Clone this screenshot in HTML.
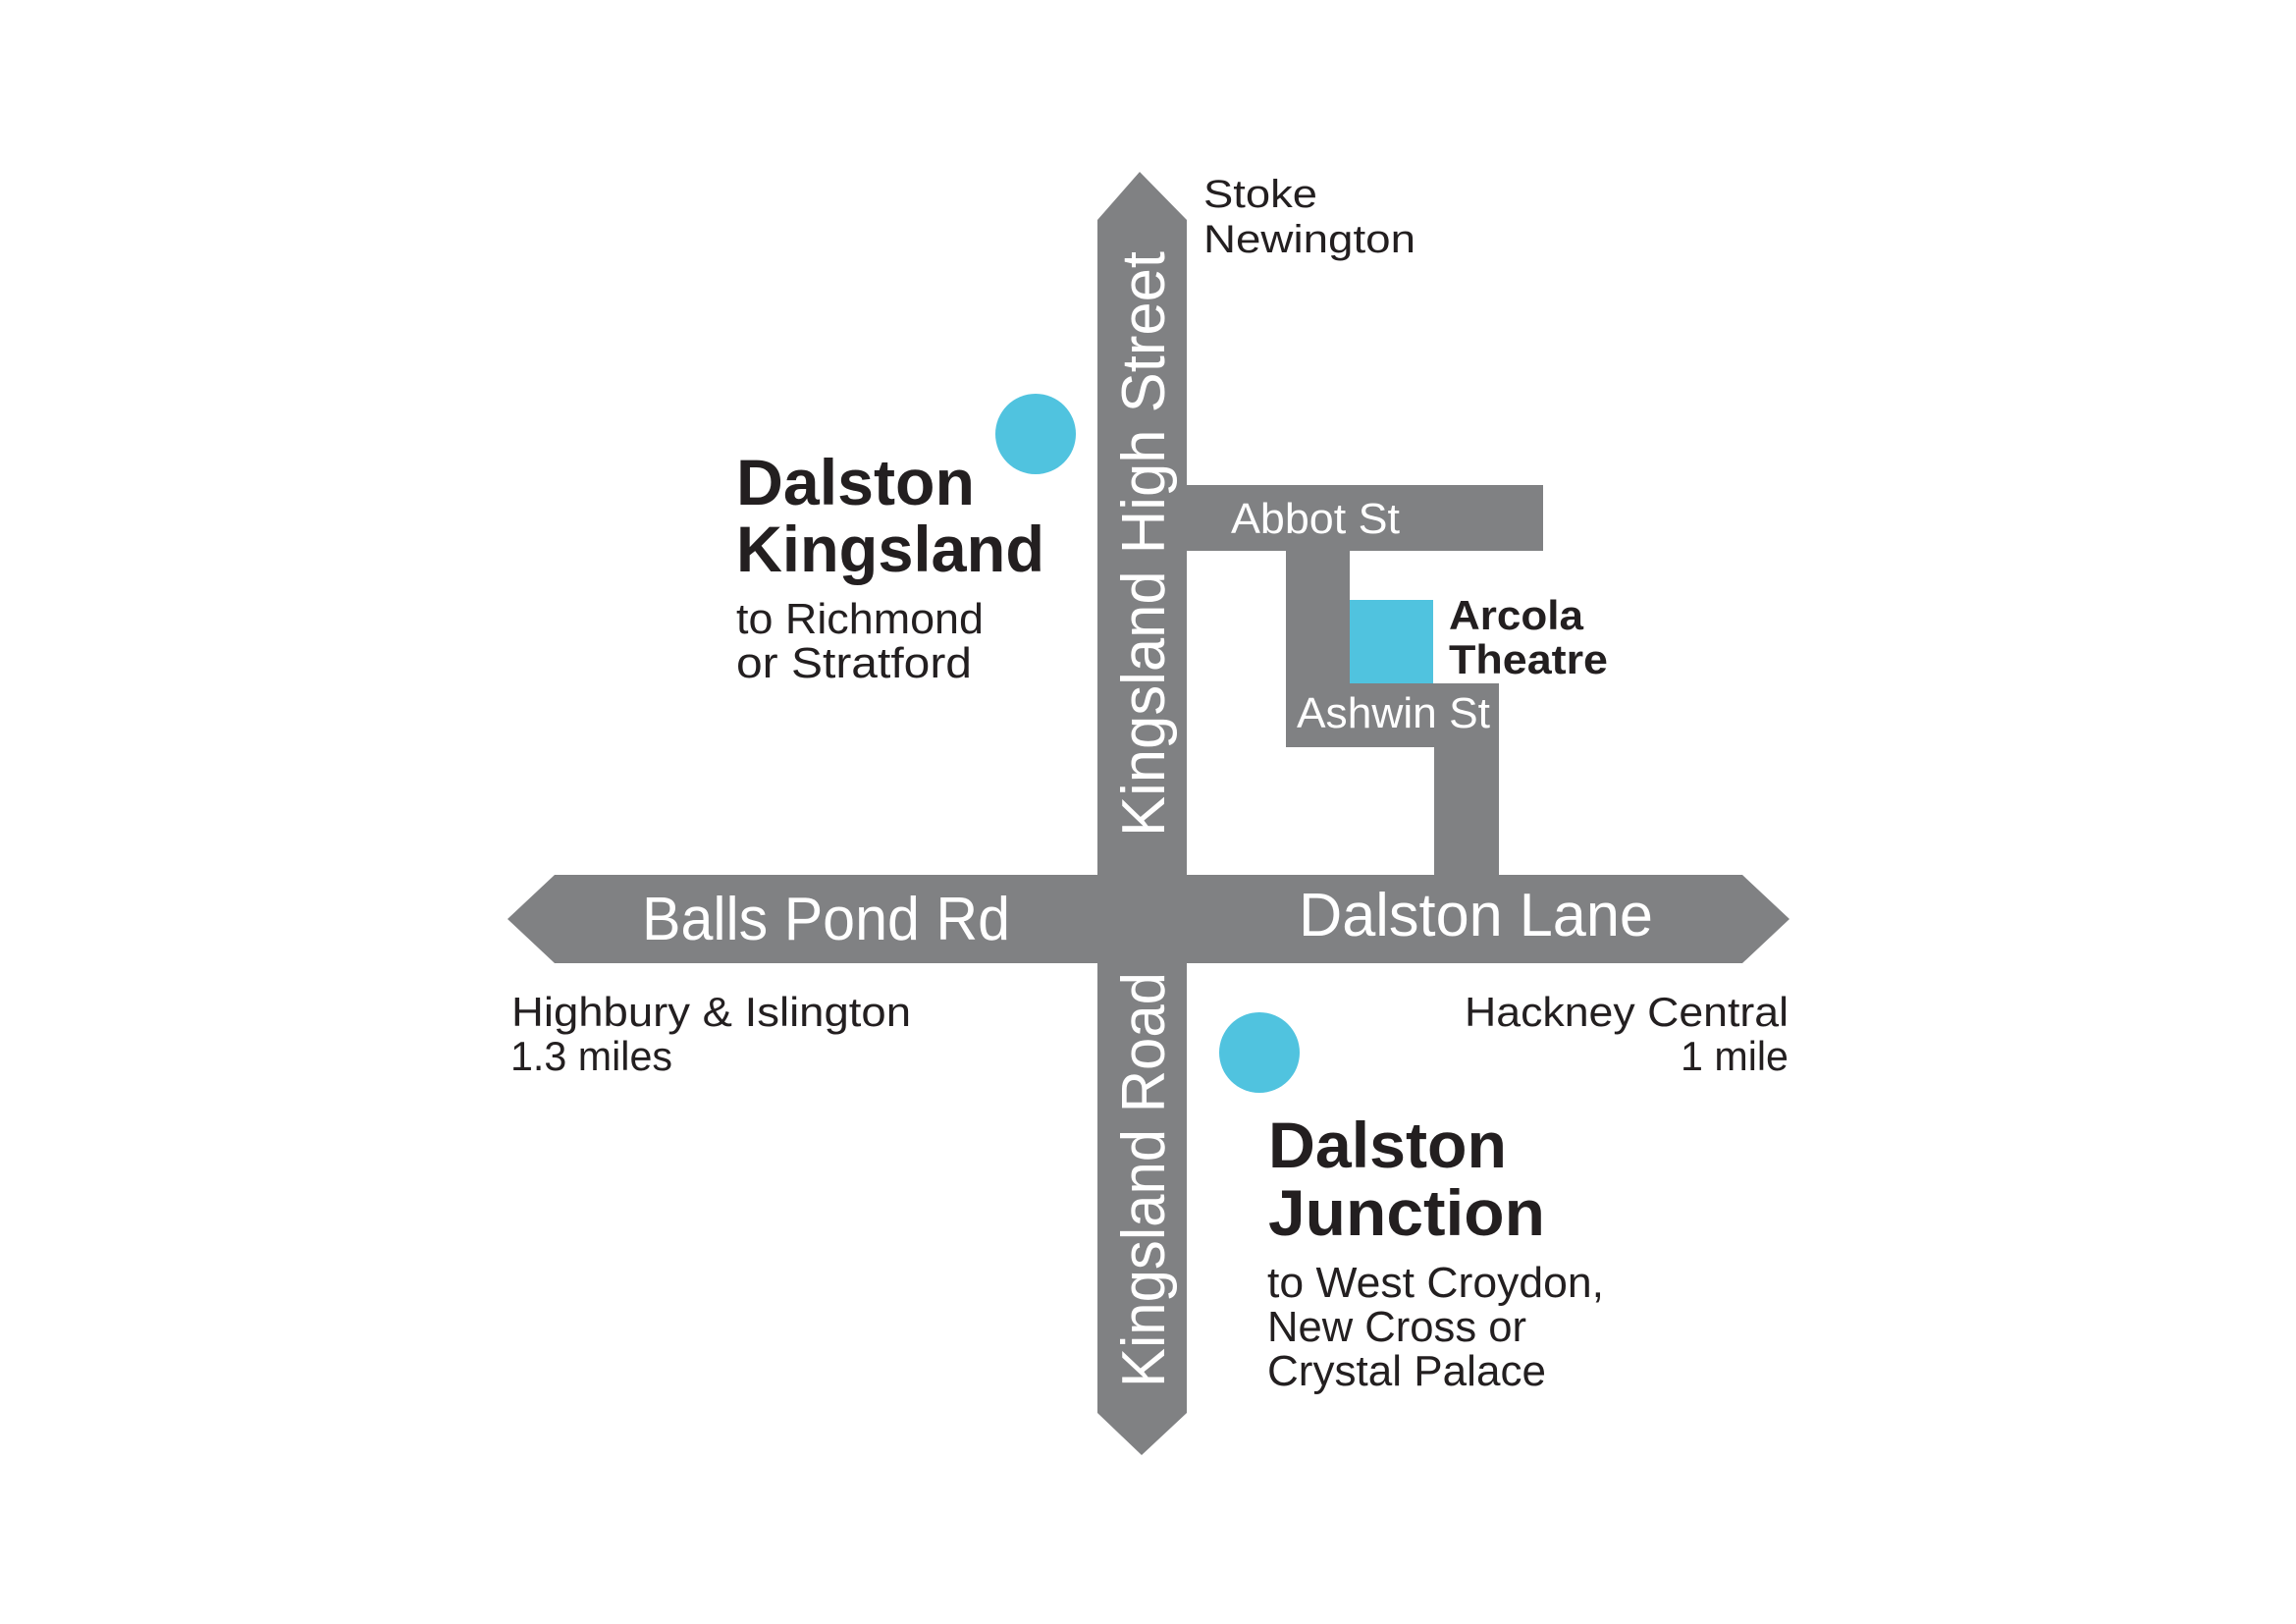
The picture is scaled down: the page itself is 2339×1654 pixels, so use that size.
<!DOCTYPE html>
<html><head><meta charset="utf-8"><style>
html,body{margin:0;padding:0;background:#fff;}
svg{display:block;}
text{font-family:"Liberation Sans",sans-serif;}
</style></head><body>
<svg width="2339" height="1654" viewBox="0 0 2339 1654" xmlns="http://www.w3.org/2000/svg">
<g transform="translate(-1,-1)">
<g fill="#808183">
<polygon points="1119,225 1162,176 1210,225 1210,1440 1164,1483 1119,1440"/>
<polygon points="566,892 1776,892 1824,937 1776,982 566,982 518,937"/>
<rect x="1210" y="495" width="363" height="67"/>
<rect x="1311" y="562" width="65" height="200"/>
<rect x="1311" y="697" width="217" height="65"/>
<rect x="1462" y="697" width="66" height="195"/>
</g>
<rect x="1376" y="612" width="85" height="85" fill="#50c3df"/>
<circle cx="1056" cy="443" r="41" fill="#50c3df"/>
<circle cx="1284" cy="1073" r="41" fill="#50c3df"/>
<g fill="#fff" font-size="62">
<text x="655" y="958" textLength="375" lengthAdjust="spacingAndGlyphs">Balls Pond Rd</text>
<text x="1324" y="954" textLength="361" lengthAdjust="spacingAndGlyphs">Dalston Lane</text>
<text transform="translate(1187,853) rotate(-90)" textLength="596" lengthAdjust="spacingAndGlyphs">Kingsland High Street</text>
<text transform="translate(1187,1414) rotate(-90)" textLength="423" lengthAdjust="spacingAndGlyphs">Kingsland Road</text>
<text x="1255" y="544" font-size="44" textLength="172" lengthAdjust="spacingAndGlyphs">Abbot St</text>
<text x="1322" y="742" font-size="44" textLength="197" lengthAdjust="spacingAndGlyphs">Ashwin St</text>
</g>
<g fill="#231f20">
<text x="1227" y="212" font-size="40" textLength="116" lengthAdjust="spacingAndGlyphs">Stoke</text>
<text x="1227" y="258" font-size="40" textLength="216" lengthAdjust="spacingAndGlyphs">Newington</text>
<text x="1477" y="642" font-size="42" font-weight="bold" textLength="137" lengthAdjust="spacingAndGlyphs">Arcola</text>
<text x="1477" y="687" font-size="42" font-weight="bold" textLength="162" lengthAdjust="spacingAndGlyphs">Theatre</text>
<text x="751" y="515" font-size="66" font-weight="bold" textLength="243" lengthAdjust="spacingAndGlyphs">Dalston</text>
<text x="751" y="583" font-size="66" font-weight="bold" textLength="314" lengthAdjust="spacingAndGlyphs">Kingsland</text>
<text x="751" y="646" font-size="44" textLength="252" lengthAdjust="spacingAndGlyphs">to Richmond</text>
<text x="751" y="691" font-size="44" textLength="240" lengthAdjust="spacingAndGlyphs">or Stratford</text>
<text x="522" y="1046" font-size="42" textLength="407" lengthAdjust="spacingAndGlyphs">Highbury &amp; Islington</text>
<text x="521" y="1091" font-size="42" textLength="165" lengthAdjust="spacingAndGlyphs">1.3 miles</text>
<text x="1823" y="1046" font-size="42" text-anchor="end" textLength="330" lengthAdjust="spacingAndGlyphs">Hackney Central</text>
<text x="1823" y="1091" font-size="42" text-anchor="end" textLength="110" lengthAdjust="spacingAndGlyphs">1 mile</text>
<text x="1293" y="1190" font-size="66" font-weight="bold" textLength="243" lengthAdjust="spacingAndGlyphs">Dalston</text>
<text x="1293" y="1259" font-size="66" font-weight="bold" textLength="282" lengthAdjust="spacingAndGlyphs">Junction</text>
<text x="1292" y="1322" font-size="44" textLength="343" lengthAdjust="spacingAndGlyphs">to West Croydon,</text>
<text x="1292" y="1367" font-size="44" textLength="264" lengthAdjust="spacingAndGlyphs">New Cross or</text>
<text x="1292" y="1412" font-size="44" textLength="284" lengthAdjust="spacingAndGlyphs">Crystal Palace</text>
</g>
</g>
</svg>
</body></html>
